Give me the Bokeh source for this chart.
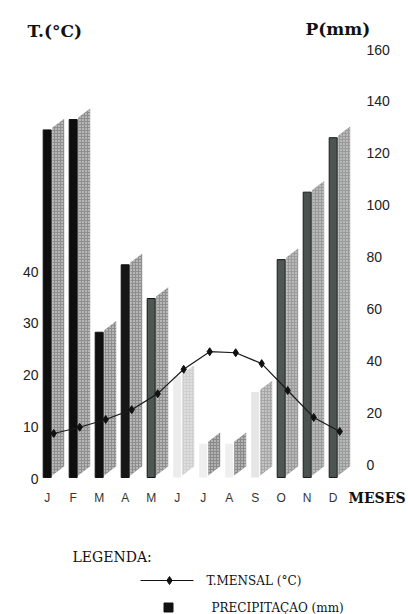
from bokeh.plotting import figure
from bokeh.models import Range1d, LinearAxis, FixedTicker, ColumnDataSource
from bokeh.layouts import column
from bokeh.embed import file_html
from bokeh.resources import INLINE
from bokeh.core.properties import value

# ---------------- data ----------------
months = ["J", "F", "M", "A", "M", "J", "J", "A", "S", "O", "N", "D"]
precip_mm = [134, 138, 56, 82, 69, 39, 13, 13, 33, 84, 110, 131]
temp_c = [8.7, 9.9, 11.4, 13.3, 16.4, 21.1, 24.5, 24.3, 22.2, 17.0, 11.8, 9.1]
temp_ticks = [0, 10, 20, 30, 40]
precip_ticks = [0, 20, 40, 60, 80, 100, 120, 140, 160]

# ---------------- styles ----------------
front_colors = ["#0e0e0e", "#0e0e0e", "#101010", "#161616", "#4d5853",
                "#ececec", "#efefef", "#efefef", "#e6e6e6",
                "#4e5753", "#4a534f", "#4c5551"]
front_lines = ["#111111"] * 5 + [None] * 4 + ["#1a1a1a"] * 3
side_fill = ["#8e8e8e"] * 5 + ["#cfcfcf", "#8a8a8a", "#8a8a8a", "#a6a6a6"] + ["#9a9a9a"] * 3
side_hatch = ["#f2f2f2"] * 5 + ["#f4f4f4", "#eeeeee", "#eeeeee", "#f0f0f0"] + ["#e8e8e8"] * 3

# geometry (layout constants, page pixels)
W = 408
SLOT_PX = 26.0
FRONT_HALF = 4 / SLOT_PX
SIDE_L = 5 / SLOT_PX
SIDE_R = 17 / SLOT_PX
PX_PER_MM = 2.59375
PX_PER_C = 5.175
FRONT_DROP = 5.0
SIDE_RISE = 3.5
SIDE_LIFT = 0.8
LINE_DX = 0.25
TOP_H = 40          # title strip: page y 0..40
MAIN_BOTTOM = 486   # chart frame: page y 40..486
FRAME_L, FRAME_R = 41, 358


def X(page_x):
    return (page_x - 46.7) / SLOT_PX


def Y(page_y):
    return (464 - page_y) / PX_PER_MM


def T(page_y):
    return (478 - page_y) / PX_PER_C


idx = list(range(len(months)))

front = ColumnDataSource(dict(
    left=[i - FRONT_HALF for i in idx],
    right=[i + FRONT_HALF for i in idx],
    bottom=[-FRONT_DROP] * len(idx),
    top=[v - FRONT_DROP for v in precip_mm],
    color=front_colors,
    lc=front_lines,
))

side = ColumnDataSource(dict(
    xs=[[i + SIDE_L, i + SIDE_R, i + SIDE_R, i + SIDE_L] for i in idx],
    ys=[[-FRONT_DROP + SIDE_LIFT, -FRONT_DROP + SIDE_LIFT + SIDE_RISE,
         v - FRONT_DROP + SIDE_LIFT + SIDE_RISE, v - FRONT_DROP + SIDE_LIFT] for v in precip_mm],
    fill=side_fill,
    hatch=side_hatch,
))

line_src = ColumnDataSource(dict(x=[i + LINE_DX for i in idx], y=temp_c))


def bare(fig):
    fig.outline_line_color = None
    fig.xgrid.visible = False
    fig.ygrid.visible = False
    fig.background_fill_color = "white"
    fig.border_fill_color = "white"
    fig.frame_align = False


# ---------------- title strip ----------------
top = figure(width=W, height=TOP_H, output_backend="svg", toolbar_location=None,
             x_range=Range1d(0, W), y_range=Range1d(TOP_H, 0),
             x_axis_location=None, y_axis_location=None, min_border=0, title=None)
bare(top)
top.text(x=[27, 305], y=[30, 28], text=["T.(°C)", "P(mm)"], text_font=value("DejaVu Serif"),
         text_font_style="bold", text_font_size="17px", text_color="#111111",
         text_baseline="alphabetic")

# ---------------- main chart ----------------
p = figure(width=W, height=MAIN_BOTTOM - TOP_H, output_backend="svg", toolbar_location=None,
           x_range=Range1d(X(FRAME_L), X(FRAME_R)), y_range=Range1d(Y(MAIN_BOTTOM), Y(TOP_H)),
           x_axis_location=None, y_axis_location=None,
           min_border_left=FRAME_L, min_border_right=W - FRAME_R,
           min_border_top=0, min_border_bottom=0, title=None)
p.extra_y_ranges = {"temp": Range1d(T(MAIN_BOTTOM), T(TOP_H))}
bare(p)

la = LinearAxis(y_range_name="temp", ticker=FixedTicker(ticks=temp_ticks))
ra = LinearAxis(ticker=FixedTicker(ticks=precip_ticks))
for ax, st in ((la, 3), (ra, 8)):
    ax.axis_line_color = None
    ax.major_tick_line_color = None
    ax.minor_tick_line_color = None
    ax.major_tick_in = 0
    ax.major_tick_out = 0
    ax.major_label_standoff = st
    ax.major_label_text_font = "Liberation Sans"
    ax.major_label_text_font_size = "14px"
    ax.major_label_text_color = "#222222"
p.add_layout(la, "left")
p.add_layout(ra, "right")

p.patches("xs", "ys", source=side, fill_color="fill", line_color=None,
          hatch_pattern="dot", hatch_color="hatch", hatch_scale=3, hatch_weight=1.6)
p.quad(left="left", right="right", bottom="bottom", top="top", source=front,
       fill_color="color", line_color="lc", line_width=1)

p.line("x", "y", source=line_src, y_range_name="temp", line_color="#1a1a1a", line_width=1.2)
p.scatter("x", "y", source=line_src, y_range_name="temp", marker="diamond", size=8,
          fill_color="#111111", line_color="#111111")

# ---------------- months + legend strip ----------------
BOT_H = 614 - MAIN_BOTTOM
q = figure(width=W, height=BOT_H, output_backend="svg", toolbar_location=None,
           x_range=Range1d(0, W), y_range=Range1d(614, MAIN_BOTTOM),
           x_axis_location=None, y_axis_location=None, min_border=0, title=None)
q.extra_x_ranges = {"m": Range1d(X(0), X(W))}
bare(q)

q.text(x=idx, y=[497] * len(idx), text=months, x_range_name="m",
       text_font=value("Liberation Sans"), text_font_size="12px", text_color="#333333",
       text_align="center", text_baseline="middle")
q.text(x=[405], y=[497], text=["MESES"], text_font=value("DejaVu Serif"),
       text_font_style="bold", text_font_size="14px", text_color="#111111",
       text_align="right", text_baseline="middle")

q.text(x=[72], y=[556], text=["LEGENDA:"], text_font=value("DejaVu Serif"),
       text_font_size="14px", text_baseline="middle", text_color="#111111")
q.line(x=[140, 193], y=[580, 580], line_color="#111111", line_width=1.2)
q.scatter(x=[169], y=[580], marker="diamond", size=8, color="#111111")
q.text(x=[206], y=[580], text=["T.MENSAL (°C)"], text_font=value("DejaVu Serif"),
       text_font_size="12px", text_baseline="middle", text_color="#111111")
q.scatter(x=[168], y=[607], marker="square", size=9, color="#111111")
q.text(x=[211], y=[607], text=["PRECIPITAÇAO (mm)"], text_font=value("DejaVu Serif"),
       text_font_size="12px", text_baseline="middle", text_color="#111111")

layout = column(top, p, q, spacing=0)
open("out.html", "w").write(file_html(layout, INLINE))
